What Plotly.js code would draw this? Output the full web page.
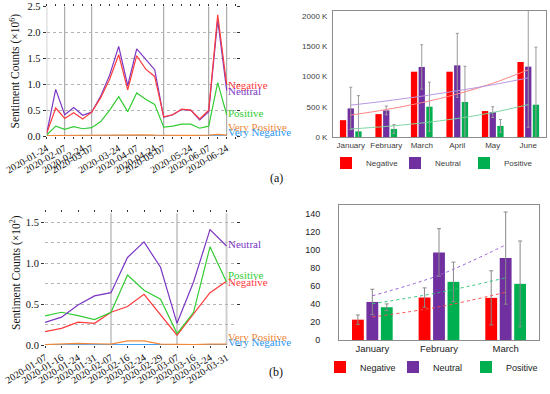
<!DOCTYPE html>
<html>
<head>
<meta charset="utf-8">
<script src="https://cdn.plot.ly/plotly-3.0.1.min.js"></script>
<style>html,body{margin:0;padding:0;background:#fff}#chart{width:550px;height:394px}</style>
</head>
<body>
<div id="chart"></div>
<script>
// ---------- (a) line chart: sentiment counts (x10^6) ----------
const topTickIdx = [0, 2, 4, 5, 8, 10, 12, 13, 16, 18, 20];
const topTickLabels = ['2020-01-24','2020-02-07','2020-02-24','2020-03-07','2020-03-24','2020-04-07','2020-04-24','2020-05-07','2020-05-24','2020-06-07','2020-06-24'];
const topNeg  = [0.05,0.54,0.34,0.45,0.33,0.46,0.74,1.10,1.57,0.89,1.55,1.29,1.15,0.37,0.41,0.52,0.50,0.33,0.50,2.34,0.99];
const topNeu  = [0.05,0.90,0.41,0.55,0.40,0.46,0.77,1.18,1.73,0.97,1.68,1.48,1.28,0.36,0.41,0.51,0.50,0.31,0.47,2.24,0.88];
const topPos  = [0.02,0.19,0.13,0.18,0.14,0.16,0.28,0.50,0.76,0.47,0.83,0.71,0.61,0.17,0.19,0.23,0.23,0.15,0.19,1.03,0.41];
const topVPos = [0.01,0.012,0.01,0.012,0.01,0.01,0.012,0.015,0.02,0.015,0.02,0.02,0.015,0.01,0.01,0.012,0.012,0.01,0.015,0.03,0.015];
const topVNeg = [0.004,0.005,0.004,0.005,0.004,0.004,0.005,0.006,0.007,0.006,0.007,0.007,0.006,0.004,0.004,0.005,0.005,0.004,0.005,0.008,0.005];

// ---------- (b) line chart: sentiment counts (x10^2) ----------
const botDates = ['2020-01-07','2020-01-16','2020-01-24','2020-01-31','2020-02-07','2020-02-16','2020-02-24','2020-02-29','2020-03-07','2020-03-16','2020-03-24','2020-03-31'];
const botNeg  = [0.163,0.204,0.28,0.265,0.40,0.47,0.62,0.37,0.12,0.38,0.64,0.78];
const botNeu  = [0.277,0.34,0.49,0.60,0.64,1.07,1.26,0.95,0.265,0.77,1.41,1.21];
const botPos  = [0.355,0.40,0.36,0.31,0.40,0.855,0.67,0.56,0.14,0.40,1.20,0.77];
const botVPos = [0.005,0.015,0.02,0.015,0.01,0.05,0.05,0.01,0.005,0.005,0.01,0.01];
const botVNeg = [0.003,0.003,0.003,0.003,0.008,0.01,0.008,0.004,0.003,0.008,0.005,0.005];

// ---------- (a) monthly bars (K) ----------
const monthsA = ['January','February','March','April','May','June'];
const barNegA = [278,378,1078,1078,428,1239];
const barNeuA = [472,439,1156,1183,411,1161];
const barPosA = [94,133,500,578,183,533];
const errNeuA = [350,72,366,528,89,1000];
const errPosA = [589,72,405,589,106,950];

// ---------- (b) monthly bars ----------
const monthsB = ['January','February','March'];
const barNegB = [22.6,47.2,46.8];
const barNeuB = [42.3,97.3,91.0];
const barPosB = [36.4,64.6,62.4];
const errNegB = [5.2,10.7,30.1];
const errNeuB = [14.1,26.4,51.2];
const errPosB = [3.7,21.9,47.6];

// exponential trendline (least squares on ln y), evaluated at each category
function expTrend(vals) {
  const n = vals.length;
  const xs = vals.map((_, i) => i);
  const ly = vals.map(v => Math.log(v));
  const mx = xs.reduce((a, b) => a + b, 0) / n;
  const my = ly.reduce((a, b) => a + b, 0) / n;
  let sxy = 0, sxx = 0;
  for (let i = 0; i < n; i++) { sxy += (xs[i] - mx) * (ly[i] - my); sxx += (xs[i] - mx) ** 2; }
  const b = sxy / sxx, a = my - b * mx;
  return xs.map(x => Math.exp(a + b * x));
}

const C = {neg:'#ff3b3b', neu:'#7a35c2', pos:'#33cc33', vpos:'#f0883a', vneg:'#2a96f2'};
const BAR = {neg:'#ff0000', neu:'#7030a0', pos:'#00b050'};
const serif = 'Liberation Serif, Times New Roman, serif';
const sans = 'Liberation Sans, Arial, sans-serif';

const idxTop = topNeg.map((_, i) => i);
const idxBot = botNeg.map((_, i) => i);

function line(x, y, color, xa, ya) {
  return {x: x, y: y, type: 'scatter', mode: 'lines', line: {color: color, width: 1.2}, xaxis: xa, yaxis: ya, showlegend: false, hoverinfo: 'skip'};
}

const traces = [
  line(idxTop, topVNeg, C.vneg, 'x', 'y'),
  line(idxTop, topVPos, C.vpos, 'x', 'y'),
  line(idxTop, topPos, C.pos, 'x', 'y'),
  line(idxTop, topNeu, C.neu, 'x', 'y'),
  line(idxTop, topNeg, C.neg, 'x', 'y'),
  line(idxBot, botVNeg, C.vneg, 'x2', 'y2'),
  line(idxBot, botVPos, C.vpos, 'x2', 'y2'),
  line(idxBot, botNeg, C.neg, 'x2', 'y2'),
  line(idxBot, botPos, C.pos, 'x2', 'y2'),
  line(idxBot, botNeu, C.neu, 'x2', 'y2'),
  // bars (a)
  {type:'bar', name:'Negative', x: monthsA, y: barNegA, marker:{color:BAR.neg}, xaxis:'x3', yaxis:'y3', legend:'legend'},
  {type:'bar', name:'Neutral', x: monthsA, y: barNeuA, marker:{color:BAR.neu}, xaxis:'x3', yaxis:'y3', legend:'legend',
   error_y:{type:'data', array: errNeuA, visible:true, color:'#9a9a9a', thickness:1, width:1.5}},
  {type:'bar', name:'Positive', x: monthsA, y: barPosA, marker:{color:BAR.pos}, xaxis:'x3', yaxis:'y3', legend:'legend',
   error_y:{type:'data', array: errPosA, visible:true, color:'#9a9a9a', thickness:1, width:1.5}},
  {type:'scatter', mode:'lines', x: monthsA, y: expTrend(barNegA), line:{color:'#ff8585', width:1, shape:'spline'}, xaxis:'x3', yaxis:'y3', showlegend:false, hoverinfo:'skip'},
  {type:'scatter', mode:'lines', x: monthsA, y: expTrend(barNeuA), line:{color:'#b898e0', width:1, shape:'spline'}, xaxis:'x3', yaxis:'y3', showlegend:false, hoverinfo:'skip'},
  {type:'scatter', mode:'lines', x: monthsA, y: expTrend(barPosA), line:{color:'#7fd6a2', width:1, shape:'spline'}, xaxis:'x3', yaxis:'y3', showlegend:false, hoverinfo:'skip'},
  // bars (b)
  {type:'bar', name:'Negative', x: monthsB, y: barNegB, marker:{color:BAR.neg}, xaxis:'x4', yaxis:'y4', legend:'legend2',
   error_y:{type:'data', array: errNegB, visible:true, color:'#8a8a8a', thickness:1, width:2}},
  {type:'bar', name:'Neutral', x: monthsB, y: barNeuB, marker:{color:BAR.neu}, xaxis:'x4', yaxis:'y4', legend:'legend2',
   error_y:{type:'data', array: errNeuB, visible:true, color:'#8a8a8a', thickness:1, width:2}},
  {type:'bar', name:'Positive', x: monthsB, y: barPosB, marker:{color:BAR.pos}, xaxis:'x4', yaxis:'y4', legend:'legend2',
   error_y:{type:'data', array: errPosB, visible:true, color:'#8a8a8a', thickness:1, width:2}},
  {type:'scatter', mode:'lines', x: monthsB, y: expTrend(barNegB), line:{color:'#ff4d4d', width:1, dash:'dot', shape:'spline'}, xaxis:'x4', yaxis:'y4', showlegend:false, hoverinfo:'skip'},
  {type:'scatter', mode:'lines', x: monthsB, y: expTrend(barNeuB), line:{color:'#9a5fd6', width:1, dash:'dot', shape:'spline'}, xaxis:'x4', yaxis:'y4', showlegend:false, hoverinfo:'skip'},
  {type:'scatter', mode:'lines', x: monthsB, y: expTrend(barPosB), line:{color:'#2fc47a', width:1, dash:'dot', shape:'spline'}, xaxis:'x4', yaxis:'y4', showlegend:false, hoverinfo:'skip'}
];

const W = 550, H = 394;
const px = v => v / W, py = v => 1 - v / H;

const serifTickX = {family: serif, size: 10, color: '#111'};
const serifTickY = {family: serif, size: 10.5, color: '#111'};
const sansTick = {family: sans, size: 8, color: '#404040'};

// annotations: series labels at right of the line charts
function lab(text, color, x, y, xa, ya) {
  return {text: text, x: x, y: y, xref: xa, yref: ya, xanchor: 'left', yanchor: 'middle', showarrow: false, xshift: -1,
          font: {family: serif, size: 11, color: color}};
}
const lastT = idxTop.length - 1, lastB = idxBot.length - 1;

const minorTicks = {dtick: 1, tick0: 0, ticks: 'outside', ticklen: 2, tickcolor: '#333', showgrid: false};

const layout = {
  width: W, height: H,
  margin: {l: 0, r: 0, t: 0, b: 0, autoexpand: false},
  paper_bgcolor: '#fff', plot_bgcolor: 'rgba(0,0,0,0)',
  showlegend: true,
  bargap: 0.35, bargroupgap: 0.18,
  xaxis: {domain: [px(46.7), px(235.7)], range: [0, 21], anchor: 'y', tickmode: 'array', tickvals: topTickIdx, ticktext: topTickLabels,
          tickangle: -30, ticks: 'outside', ticklen: 2, tickcolor: '#333', mirror: 'ticks', showgrid: false, zeroline: false, showline: false,
          automargin: false, tickfont: serifTickX, minor: minorTicks},
  yaxis: {domain: [py(136), py(6.5)], range: [0, 2.5], anchor: 'x', dtick: 0.5, tickformat: '.1f', ticks: 'outside', ticklen: 3, tickcolor: '#333',
          mirror: 'ticks', showgrid: true, gridcolor: '#b5b5b5', griddash: 'dot', gridwidth: 1, zeroline: false, showline: false,
          automargin: false, tickfont: serifTickY},
  xaxis2: {domain: [px(45), px(235.6)], range: [0, 11.55], anchor: 'y2', tickmode: 'array', tickvals: idxBot, ticktext: botDates,
           tickangle: -32, ticks: 'outside', ticklen: 2, tickcolor: '#333', mirror: 'ticks', showgrid: false, zeroline: false, showline: false,
           automargin: false, tickfont: serifTickX},
  yaxis2: {domain: [py(345), py(213.3)], range: [0, 1.61], anchor: 'x2', dtick: 0.5, tickformat: '.1f', ticks: 'outside', ticklen: 3, tickcolor: '#333',
           mirror: 'ticks', showgrid: true, gridcolor: '#b5b5b5', griddash: 'dot', zeroline: false, showline: false, tickfont: serifTickY,
           automargin: false, minor: {dtick: 0.25, showgrid: true, gridcolor: '#b5b5b5', griddash: 'dot'}},
  xaxis3: {domain: [px(333), px(546)], anchor: 'y3', type: 'category', showline: true, mirror: true, linecolor: '#8c8c8c', linewidth: 1,
           ticks: '', tickangle: 0, showgrid: false, automargin: false, tickfont: sansTick},
  yaxis3: {domain: [py(137), py(11)], range: [0, 2080], anchor: 'x3', tickmode: 'linear', tick0: 0, dtick: 500, ticksuffix: ' K',
           showline: true, mirror: true, linecolor: '#8c8c8c', linewidth: 1, showgrid: false, zeroline: false, ticks: '',
           automargin: false, ticklabelstandoff: 3, tickfont: sansTick},
  xaxis4: {domain: [px(339), px(539)], anchor: 'y4', type: 'category', showline: true, mirror: true, linecolor: '#8c8c8c', linewidth: 1,
           ticks: '', tickangle: 0, showgrid: false, automargin: false, tickfont: {family: sans, size: 9.5, color: '#222'}},
  yaxis4: {domain: [py(340), py(205)], range: [0, 150], anchor: 'x4', dtick: 20,
           showline: true, mirror: true, linecolor: '#8c8c8c', linewidth: 1, showgrid: false, zeroline: false, ticks: '',
           automargin: false, ticklabelstandoff: 16, tickfont: {family: sans, size: 9, color: '#222'}},
  legend: {orientation: 'h', x: px(326), xanchor: 'left', y: py(163), yanchor: 'middle', font: {family: sans, size: 8, color: '#404040'},
           entrywidth: 24, entrywidthmode: 'pixels', itemwidth: 30, bgcolor: 'rgba(0,0,0,0)'},
  legend2: {orientation: 'h', x: px(320), xanchor: 'left', y: py(367), yanchor: 'middle', font: {family: sans, size: 9, color: '#222'},
            entrywidth: 28, entrywidthmode: 'pixels', itemwidth: 30, bgcolor: 'rgba(0,0,0,0)'},
  shapes: [
    ...[0, 2, 5, 13, 18, 20].map(v => ({type: 'line', xref: 'x', yref: 'y domain', x0: v, x1: v, y0: 0, y1: 1, line: {color: '#9a9a9a', width: 1}, layer: 'below'})),
    ...[4, 8, 11].map(v => ({type: 'line', xref: 'x2', yref: 'y2 domain', x0: v, x1: v, y0: 0, y1: 1, line: {color: '#cfcfcf', width: 2}, layer: 'below'}))
  ],
  annotations: [
    lab('Negative', C.neg, lastT, 0.985, 'x', 'y'),
    lab('Neutral', C.neu, lastT, 0.875, 'x', 'y'),
    lab('Positive', C.pos, lastT, 0.44, 'x', 'y'),
    lab('Very Positive', C.vpos, lastT, 0.18, 'x', 'y'),
    lab('Very Negative', C.vneg, lastT, 0.075, 'x', 'y'),
    lab('Neutral', C.neu, lastB, 1.24, 'x2', 'y2'),
    lab('Positive', C.pos, lastB, 0.856, 'x2', 'y2'),
    lab('Negative', C.neg, lastB, 0.774, 'x2', 'y2'),
    lab('Very Positive', C.vpos, lastB, 0.098, 'x2', 'y2'),
    lab('Very Negative', C.vneg, lastB, 0.037, 'x2', 'y2'),
    {text: 'Sentiment Counts (×10<sup>6</sup>)', x: px(15), y: py(71.5), xref: 'paper', yref: 'paper', textangle: -90, showarrow: false,
     xanchor: 'center', yanchor: 'middle', font: {family: serif, size: 11.5, color: '#111'}},
    {text: 'Sentiment Counts (×10<sup>2</sup>)', x: px(15), y: py(273), xref: 'paper', yref: 'paper', textangle: -90, showarrow: false,
     xanchor: 'center', yanchor: 'middle', font: {family: serif, size: 11.5, color: '#111'}},
    {text: '(a)', x: px(276), y: py(178), xref: 'paper', yref: 'paper', showarrow: false, xanchor: 'center', yanchor: 'middle',
     font: {family: serif, size: 12, color: '#111'}},
    {text: '(b)', x: px(276), y: py(372), xref: 'paper', yref: 'paper', showarrow: false, xanchor: 'center', yanchor: 'middle',
     font: {family: serif, size: 12, color: '#111'}}
  ]
};

Plotly.newPlot('chart', traces, layout, {displayModeBar: false, staticPlot: true});
</script>
</body>
</html>
